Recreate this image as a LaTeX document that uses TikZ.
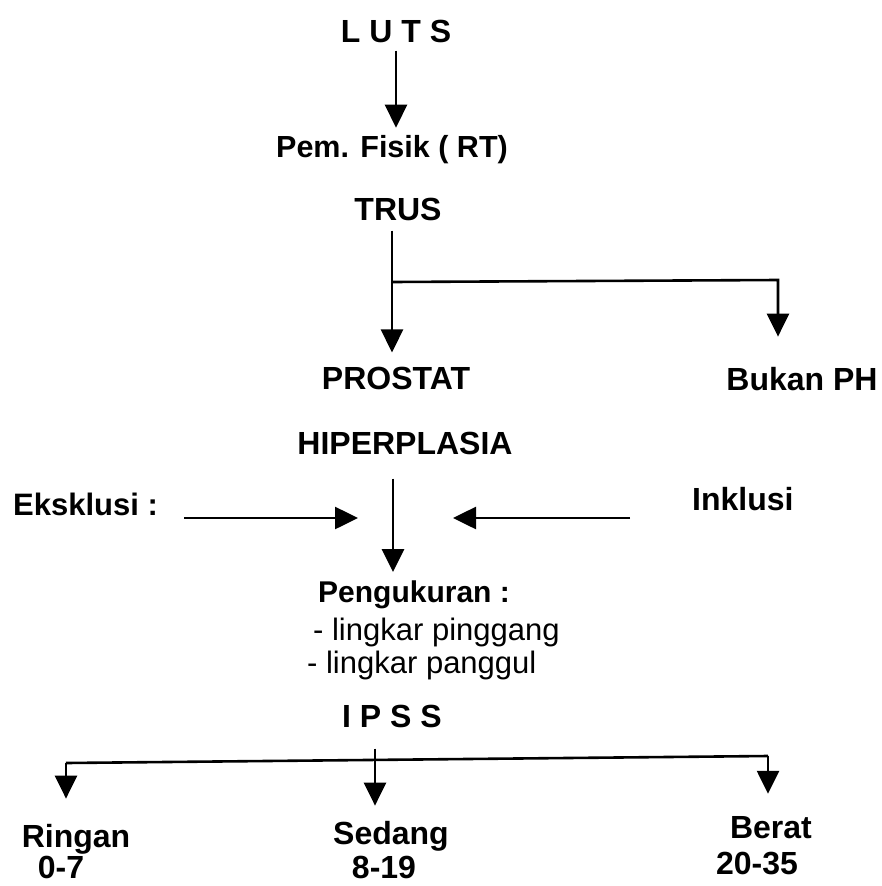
\documentclass[tikz,border=0pt]{standalone}
\usepackage{fontspec}
\setmainfont{Liberation Sans}
\usepackage{tikz}
\usetikzlibrary{arrows.meta,calc}

\begin{document}
\begin{tikzpicture}[
  x=1pt,y=-1pt,
  t/.style={inner sep=0pt,anchor=base,font=\fontsize{32}{38}\selectfont\bfseries},
  tl/.style={t,anchor=base west},
  r/.style={tl,font=\fontsize{31}{37}\selectfont},
  l/.style={line width=2.6pt,draw=black},
  a/.style={l,-{Triangle[length=23pt,width=22pt]}}
]
\useasboundingbox (0,0) rectangle (882,886);
% top part
\node[t] (luts) at (396,42) {L U T S};
\node[t,font=\fontsize{30.5}{37}\selectfont\bfseries] (fisik) at (392,157) {Pem. Fisik ( RT)};
\node[t] (trus) at (398,220) {TRUS};
\node[t] (prostat) at (396,389) {PROSTAT};
\node[t] (hiper) at (405,454) {HIPERPLASIA};
\node[t] (bukan) at (802,390) {Bukan PH};
% criteria
\node[tl,font=\fontsize{31}{37}\selectfont\bfseries] (ekskl) at (13,515) {Eksklusi :};
\node[tl] (inkl) at (692,510) {Inklusi};
\node[tl,font=\fontsize{30}{37}\selectfont\bfseries] (ukur) at (318,602) {Pengukuran :};
\node[r] (pinggang) at (313,640) {- lingkar pinggang};
\node[r] (panggul) at (307,673) {- lingkar panggul};
\node[t] (ipss) at (392,727) {I P S S};
% grades
\node[t] (ringan) at (76,847) {Ringan};
\node[t] (ringanval) at (61,878) {0-7};
\node[t] (sedang) at (391,844) {Sedang};
\node[t] (sedangval) at (384,878) {8-19};
\node[t] (berat) at (771,838) {Berat};
\node[t] (beratval) at (757,874) {20-35};

\coordinate (split) at (392,282);
\coordinate (splitR) at (778,280);
\coordinate (mid) at (393,518);
\coordinate (fork) at (375,760);
\coordinate (forkL) at (66,763);
\coordinate (forkR) at (768,756);

\draw[a,shorten <=8pt,shorten >=7pt] (luts.south) -- (luts.south |- fisik.north);
\draw[l,shorten <=10pt] (split |- trus.south) -- (split);
\draw[a,shorten >=14pt] (split) -- (split |- prostat.north);
\draw[a,shorten >=30pt] (split) -- (splitR) -- (splitR |- bukan.north);

\draw[a,shorten <=24pt,shorten >=8pt] (mid |- hiper.south) -- (mid |- ukur.north);
\draw[a,shorten <=26pt,shorten >=35pt] (ekskl.east |- mid) -- (mid);
\draw[a,shorten <=62pt,shorten >=60pt] (inkl.west |- mid) -- (mid);

\draw[a,shorten <=21pt,shorten >=15pt] (fork |- ipss.south) -- (fork |- sedang.north);
\draw[l] (forkL) -- (forkR);
\draw[a,shorten >=25pt] (forkL) -- (forkL |- ringan.north);
\draw[a,shorten >=22pt] (forkR) -- (forkR |- berat.north);
\end{tikzpicture}
\end{document}
